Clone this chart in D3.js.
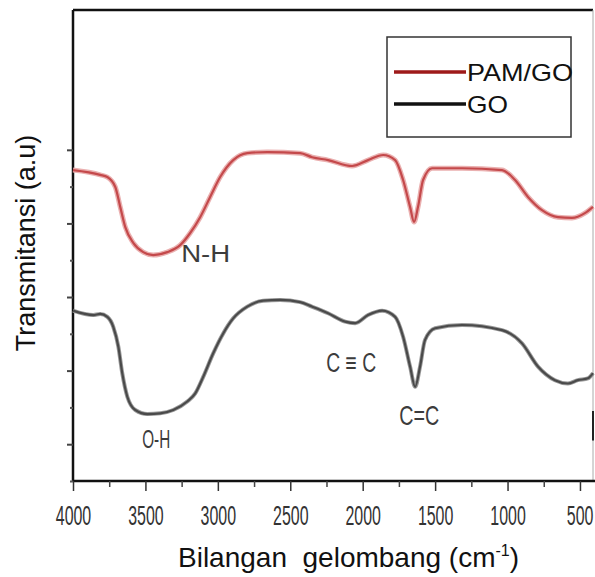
<!DOCTYPE html>
<html>
<head>
<meta charset="utf-8">
<script src="https://cdn.jsdelivr.net/npm/d3@7"></script>
<style>
  body { margin: 0; background: #fff; }
  svg { display: block; font-family: "Liberation Sans", Arial, sans-serif; }
</style>
</head>
<body>
<div id="viz"></div>
<script>
// wavenumbers (cm-1) and transmittance (a.u)
var pamWave = [4000, 3812, 3763, 3708, 3674, 3639, 3584, 3515, 3446, 3349, 3260, 3191, 3122, 3053, 2984, 2894, 2797, 2659, 2432, 2349, 2239, 2073, 1963, 1859, 1776, 1721, 1673, 1645, 1618, 1583, 1521, 1314, 1038, 948, 859, 762, 652, 555, 466, 410];
var pamT    = [8.45, 8.32, 8.26, 7.99, 7.45, 6.90, 6.47, 6.22, 6.14, 6.22, 6.41, 6.74, 7.17, 7.72, 8.26, 8.72, 8.91, 8.94, 8.91, 8.80, 8.72, 8.56, 8.72, 8.86, 8.72, 8.18, 7.45, 7.04, 7.45, 8.18, 8.50, 8.50, 8.45, 8.18, 7.72, 7.36, 7.17, 7.15, 7.28, 7.45];

var goWave = [4000, 3860, 3812, 3763, 3722, 3687, 3660, 3625, 3570, 3487, 3398, 3308, 3211, 3156, 3101, 3032, 2963, 2894, 2797, 2687, 2570, 2432, 2351, 2239, 2121, 2052, 1963, 1866, 1776, 1721, 1673, 1638, 1604, 1570, 1500, 1314, 1038, 900, 790, 673, 583, 514, 445, 410];
var goT    = [4.63, 4.51, 4.54, 4.46, 4.19, 3.65, 2.93, 2.29, 1.93, 1.82, 1.84, 1.93, 2.16, 2.38, 2.83, 3.47, 4.01, 4.42, 4.74, 4.90, 4.92, 4.86, 4.74, 4.56, 4.33, 4.29, 4.51, 4.63, 4.46, 3.92, 3.11, 2.56, 3.11, 3.83, 4.15, 4.24, 4.10, 3.74, 3.11, 2.74, 2.65, 2.74, 2.79, 2.93];

var xMajor = [4000, 3500, 3000, 2500, 2000, 1500, 1000, 500];
var xMinor = [3750, 3250, 2750, 2250, 1750, 1250, 750];
var yMajor = [1, 3, 5, 7, 9];
var yMinor = [0, 2, 4, 6, 8];

var seriesNames  = ["PAM/GO", "GO"];
var seriesColors = ["#c4494b", "#4a4a4a"];
var legendColors = ["#9e1a1a", "#111111"];

// band labels: [text, wavenumber, transmittance]
var bandLabels = [
  ["N-H", 3253, 5.95],
  ["O-H", 3522, 0.90],
  ["C \u2261 C", 2252, 2.97],
  ["C=C", 1747, 1.52]
];

var width = 595, height = 577;
var margin = ({top: 10, right: 2, bottom: 96, left: 73});

var svg = d3.select("#viz").append("svg")
  .attr("width", width)
  .attr("height", height);

var x = d3.scaleLinear().domain([4000, 410]).range([margin.left, width - margin.right]);
var y = d3.scaleLinear().domain([0, 12.8]).range([height - margin.bottom, margin.top]);

// frame: top and right edge
svg.append("line")
  .attr("x1", margin.left).attr("x2", width - margin.right)
  .attr("y1", margin.top).attr("y2", margin.top)
  .attr("stroke", "#111").attr("stroke-width", 2.5);
svg.append("line")
  .attr("x1", width - margin.right).attr("x2", width - margin.right)
  .attr("y1", margin.top).attr("y2", height - margin.bottom)
  .attr("stroke", "#aaa").attr("stroke-width", 1);
svg.append("line")
  .attr("x1", width - margin.right).attr("x2", width - margin.right)
  .attr("y1", y(1.9)).attr("y2", y(1.1))
  .attr("stroke", "#222").attr("stroke-width", 2);

// x axis, major + minor ticks
var xAxisG = svg.append("g")
  .attr("transform", "translate(0," + y(0) + ")")
  .call(d3.axisBottom(x).tickValues(xMajor).tickSize(10).tickSizeOuter(0).tickFormat(d3.format("d")));
xAxisG.select(".domain").attr("stroke", "#111").attr("stroke-width", 2.5)
  .attr("d", "M" + margin.left + ",0H" + width);
xAxisG.selectAll(".tick line").attr("stroke", "#333").attr("stroke-width", 1.5);
// narrow digits: squeeze horizontally
xAxisG.selectAll(".tick text")
  .attr("x", 0).attr("y", 0).attr("dy", 0)
  .attr("transform", function(d) {
    return d == 500 ? "translate(13,44) scale(0.57,1)" : "translate(0,44) scale(0.57,1)";
  })
  .attr("text-anchor", function(d) { return d == 500 ? "end" : "middle"; })
  .attr("fill", "#333")
  .style("font-size", "28px");

var xMinorG = svg.append("g")
  .attr("transform", "translate(0," + y(0) + ")")
  .call(d3.axisBottom(x).tickValues(xMinor).tickSize(6).tickFormat(""));
xMinorG.select(".domain").remove();
xMinorG.selectAll(".tick line").attr("stroke", "#444").attr("stroke-width", 1.5);

// y axis (no labels)
var yAxisG = svg.append("g")
  .attr("transform", "translate(" + margin.left + ",0)")
  .call(d3.axisLeft(y).tickValues(yMajor).tickSize(6).tickFormat("").tickSizeOuter(0));
yAxisG.select(".domain").attr("stroke", "#111").attr("stroke-width", 2.5)
  .attr("d", "M0," + margin.top + "V" + y(0));
yAxisG.selectAll(".tick line").attr("stroke", "#444").attr("stroke-width", 2);

var yMinorG = svg.append("g")
  .attr("transform", "translate(" + margin.left + ",0)")
  .call(d3.axisLeft(y).tickValues(yMinor).tickSize(3).tickFormat(""));
yMinorG.select(".domain").remove();
yMinorG.selectAll(".tick line").attr("stroke", "#555").attr("stroke-width", 2);

// spectra
var line = d3.line()
  .x(function(d) { return x(d[0]); })
  .y(function(d) { return y(d[1]); })
  .curve(d3.curveMonotoneX);

var pamData = pamWave.map(function(w, i) { return [w, pamT[i]]; });
var goData  = goWave.map(function(w, i) { return [w, goT[i]]; });

svg.append("path").datum(pamData)
  .attr("d", line).attr("fill", "none")
  .attr("stroke", "#eab0b0").attr("stroke-width", 5);
svg.append("path").datum(pamData)
  .attr("d", line).attr("fill", "none")
  .attr("stroke", seriesColors[0]).attr("stroke-width", 2.2);

svg.append("path").datum(goData)
  .attr("d", line).attr("fill", "none")
  .attr("stroke", "#9a9a9a").attr("stroke-width", 4);
svg.append("path").datum(goData)
  .attr("d", line).attr("fill", "none")
  .attr("stroke", seriesColors[1]).attr("stroke-width", 2.2);

// band labels
var labelLen = {"N-H": 49, "O-H": 28, "C \u2261 C": 50, "C=C": 40};
var labelSize = {"N-H": 23, "O-H": 25, "C \u2261 C": 27, "C=C": 28};
svg.selectAll(".band")
  .data(bandLabels)
  .enter()
  .append("text")
  .attr("class", "band")
  .attr("x", function(d) { return x(d[1]); })
  .attr("y", function(d) { return y(d[2]); })
  .attr("fill", "#3c3c3c")
  .style("font-size", function(d) { return labelSize[d[0]] + "px"; })
  .attr("textLength", function(d) { return labelLen[d[0]]; })
  .attr("lengthAdjust", "spacingAndGlyphs")
  .text(function(d) { return d[0]; });

// legend
var legend = svg.append("g").attr("transform", "translate(387,37)");
legend.append("rect")
  .attr("width", 184).attr("height", 100)
  .attr("fill", "#fff").attr("stroke", "#333").attr("stroke-width", 1.5);
seriesNames.forEach(function(name, i) {
  var ly = 35 + i * 32;
  legend.append("line")
    .attr("x1", 7).attr("x2", 79)
    .attr("y1", ly).attr("y2", ly)
    .attr("stroke", legendColors[i]).attr("stroke-width", 3.5);
  legend.append("text")
    .attr("x", 80).attr("y", ly + 9)
    .attr("fill", "#111")
    .style("font-size", "24px")
    .attr("textLength", i == 0 ? 106 : 41)
    .attr("lengthAdjust", "spacingAndGlyphs")
    .text(name);
});

// axis titles
var xTitle = svg.append("text")
  .attr("x", 178).attr("y", 567)
  .attr("fill", "#111")
  .style("font-size", "28px");
xTitle.append("tspan").text("Bilangan\u00a0 gelombang (cm");
xTitle.append("tspan").attr("dy", -11).style("font-size", "16px").text("-1");
xTitle.append("tspan").attr("dy", 11).text(")");

svg.append("text")
  .attr("transform", "translate(35,243) rotate(-90)")
  .attr("text-anchor", "middle")
  .attr("fill", "#111")
  .style("font-size", "27px")
  .text("Transmitansi (a.u)");
</script>
</body>
</html>
